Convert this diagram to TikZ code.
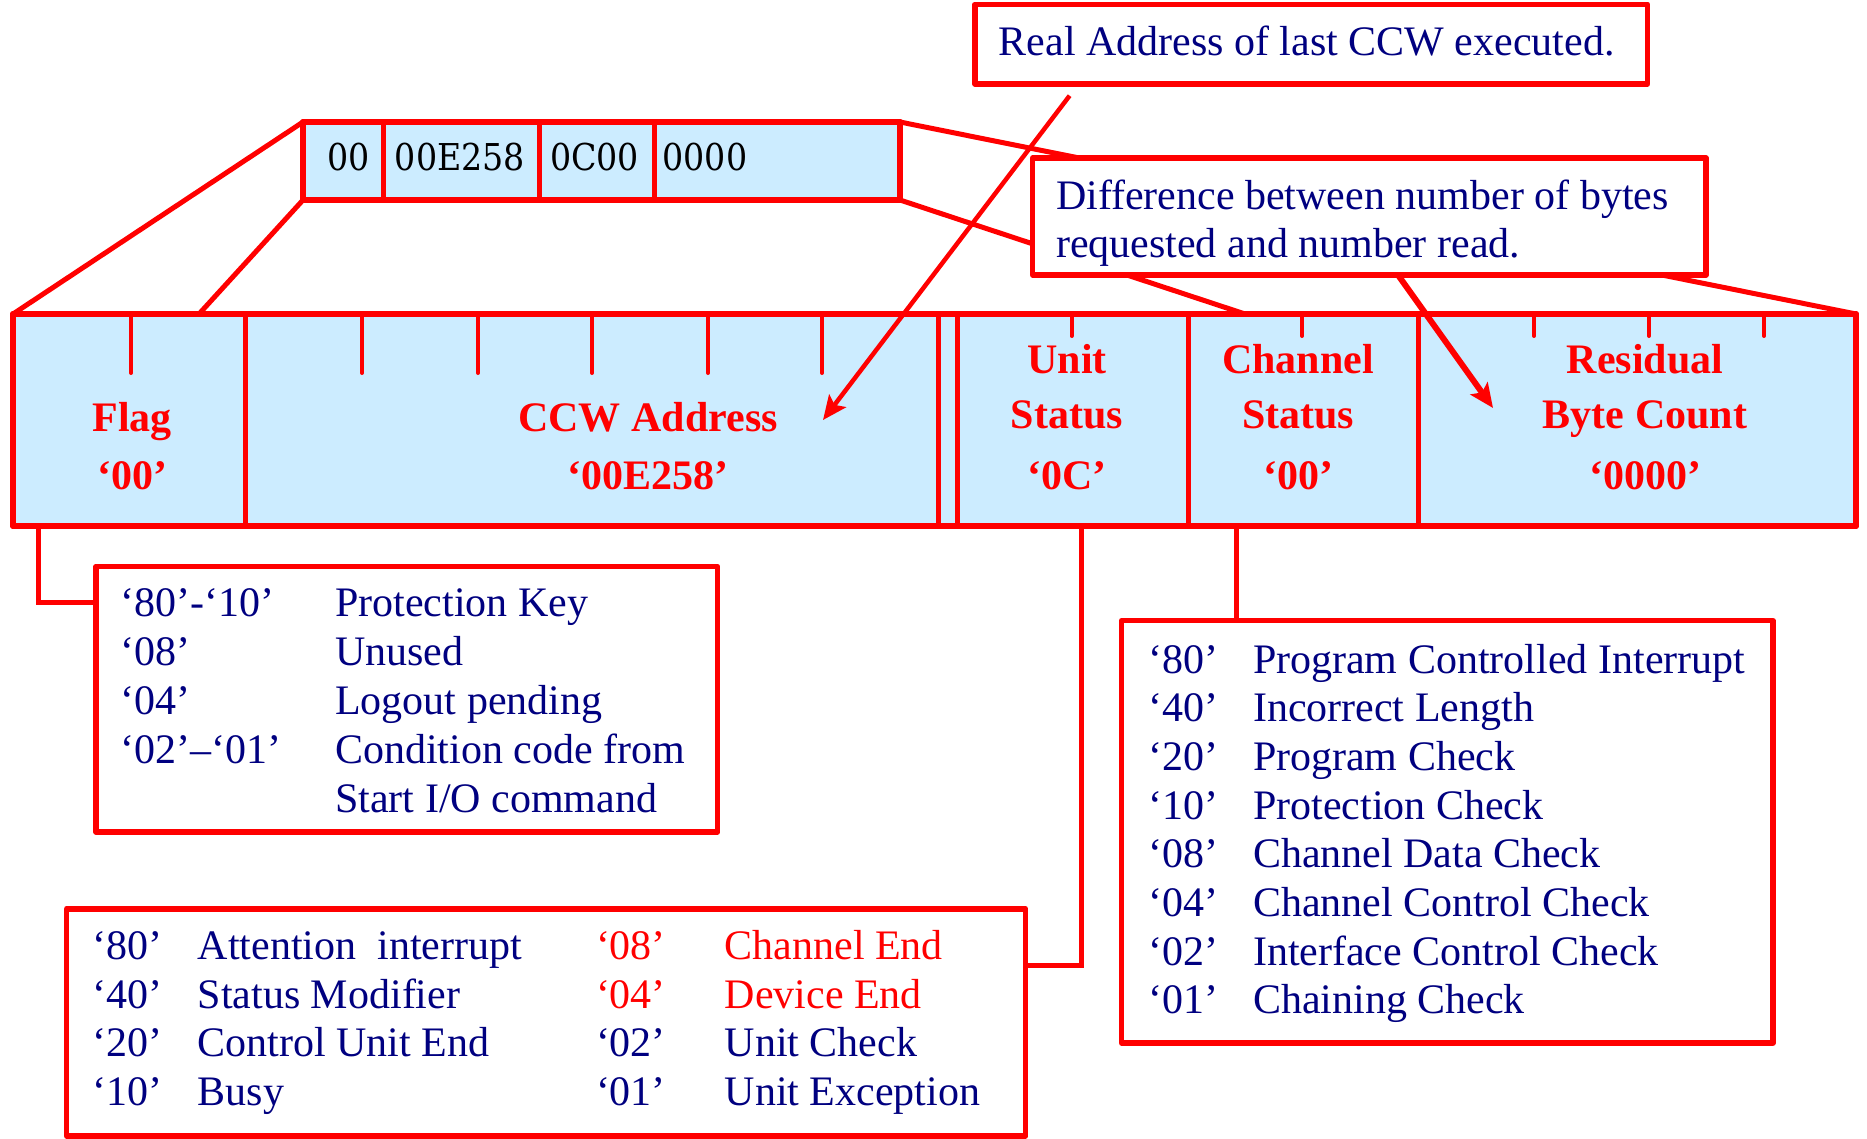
\documentclass[tikz,border=0pt]{standalone}
\usepackage{fontspec}
\setmainfont{Liberation Serif}
\newfontfamily\hexfont[FakeStretch=0.9]{DejaVu Serif}
\usetikzlibrary{arrows.meta}
\definecolor{fillblue}{RGB}{204,236,255}
\definecolor{navy}{RGB}{0,0,128}
\definecolor{pred}{RGB}{255,0,0}
\begin{document}
\begin{tikzpicture}[x=1pt,y=-1pt,
  every node/.style={inner sep=0pt, outer sep=0pt},
  txt/.style={anchor=base west, text=navy, font=\fontsize{42}{48}\selectfont},
  rtxt/.style={anchor=base west, text=pred, font=\fontsize{42}{48}\selectfont},
  lbl/.style={anchor=base, text=pred, font=\fontsize{42}{48}\selectfont\bfseries},
  hex/.style={text=black, font=\hexfont\fontsize{37}{44}\selectfont},
  frame/.style={draw=pred, line width=5.5pt, line join=round, anchor=north west},
  wire/.style={draw=pred, line width=5pt},
  tickline/.style={draw=pred, line width=4pt, line cap=round},
  pointer/.style={draw=pred, -{Stealth[length=24pt, width=21pt, inset=5pt]}},
]
\useasboundingbox (0,0) rectangle (1867,1139);

% --- positions of the nodes ---
\coordinate (smallpos) at (303,122);
\coordinate (rowpos) at (13,314);

% trapezoid lines (behind)
\node[frame, fill=fillblue, minimum width=597, minimum height=78] (small) at (smallpos) {};
\node[frame, fill=fillblue, minimum width=1843, minimum height=212] (row) at (rowpos) {};
\coordinate (lowL) at (199,314);
\coordinate (lowR) at (1245,314);
\draw[wire] (small.north west) -- (row.north west);
\draw[wire] (small.south west) -- (lowL);
\draw[wire] (small.north east) -- (row.north east);
\draw[wire] (small.south east) -- (lowR);

% small register box
\node[frame, fill=fillblue, minimum width=597, minimum height=78] (small2) at (smallpos) {};
\foreach \x in {383.6,539,654} \draw[wire] (\x,122) -- (\x,200);
\node[hex, anchor=base] (h1) at (349,171) {00};
\node[hex, anchor=base] (h2) at (460,171) {00E258};
\node[hex, anchor=base] (h3) at (594.6,171) {0C00};
\node[hex, anchor=base west] (h4) at (662.6,171) {0000};

% main row
\node[frame, fill=fillblue, minimum width=1843, minimum height=212] (row2) at (rowpos) {};
\foreach \x in {245,938,957,1188,1418} \draw[wire] (\x,314) -- (\x,526);
\foreach \x in {131,362,478,592,708,822} \draw[tickline] (\x,314) -- (\x,373);
\foreach \x in {1071.5,1302,1534,1649,1764} \draw[tickline] (\x,314) -- (\x,336);

\node[lbl] (flag1) at (132,431) {Flag};
\node[lbl] (flag2) at (132,489) {‘00’};
\node[lbl] (ccw1) at (648,431) {CCW Address};
\node[lbl] (ccw2) at (648,489) {‘00E258’};
\node[lbl] (us1) at (1067,373) {Unit};
\node[lbl] (us2) at (1067,428.6) {Status};
\node[lbl] (us3) at (1067,489) {‘0C’};
\node[lbl] (cs1) at (1298,373) {Channel};
\node[lbl] (cs2) at (1298,428.6) {Status};
\node[lbl] (cs3) at (1298,489) {‘00’};
\node[lbl] (rb1) at (1645,373) {Residual};
\node[lbl] (rb2) at (1645,428.6) {Byte Count};
\node[lbl] (rb3) at (1645,489) {‘0000’};

% callout boxes
\node[frame, fill=white, minimum width=672.5, minimum height=79.7] (real) at (975,4.3) {};
\node[txt] (realtxt) at (998.7,56) {Real Address of last CCW executed.};
\node[frame, fill=white, minimum width=673.4, minimum height=117] (diff) at (1032.6,158) {};
\node[txt] (diff1) at (1056,210) {Difference between number of bytes};
\node[txt] (diff2) at (1056,258) {requested and number read.};

% arrows
\coordinate (a1s) at (1069.6,95.7);
\coordinate (a1e) at (823,420);
\draw[pointer, line width=4.5pt] (a1s) -- (a1e);
\coordinate (a2s) at (1398,275);
\coordinate (a2e) at (1493,408);
\draw[pointer, line width=6pt] (a2s) -- (a2e);

% Flag box
\node[frame, fill=white, minimum width=621.6, minimum height=265.6] (flagbox) at (96,566.4) {};
\coordinate (fc) at (38.6,526);
\coordinate (fin) at (96,602);
\draw[wire] (fc) |- (fin);
\foreach \a/\b [count=\i] in {{‘80’-‘10’}/{Protection Key},{‘08’}/{Unused},{‘04’}/{Logout pending},{‘02’–‘01’}/{Condition code from}}{
  \node[txt] (fa\i) at (120.7,{616+49*(\i-1)}) {\a};
  \node[txt] (fb\i) at (335.3,{616+49*(\i-1)}) {\b};
}
\node[txt] (fb5) at (335.3,812) {Start I/O command};

% Unit status box
\node[frame, fill=white, minimum width=959, minimum height=227.2] (unitbox) at (66.6,908.8) {};
\coordinate (uc) at (1081.5,526);
\coordinate (uin) at (1025.6,965.8);
\draw[wire] (uc) |- (uin);
\foreach \a/\b [count=\i] in {{‘80’}/{Attention\ \ interrupt},{‘40’}/{Status Modifier},{‘20’}/{Control Unit End},{‘10’}/{Busy}}{
  \node[txt] (ua\i) at (92.6,{959.7+48.5*(\i-1)}) {\a};
  \node[txt] (ub\i) at (197.8,{959.7+48.5*(\i-1)}) {\b};
}
\node[rtxt] (uc1) at (596,959.7) {‘08’};
\node[rtxt] (ud1) at (724.7,959.7) {Channel End};
\node[rtxt] (uc2) at (596,1008.2) {‘04’};
\node[rtxt] (ud2) at (724.7,1008.2) {Device End};
\node[txt] (uc3) at (596,1056.7) {‘02’};
\node[txt] (ud3) at (724.7,1056.7) {Unit Check};
\node[txt] (uc4) at (596,1105.2) {‘01’};
\node[txt] (ud4) at (724.7,1105.2) {Unit Exception};

% Channel status box
\node[frame, fill=white, minimum width=651.4, minimum height=422.2] (chanbox) at (1121.6,620.6) {};
\coordinate (cc) at (1236,526);
\draw[wire] (cc) -- (cc |- chanbox.north);
\foreach \a/\b [count=\i] in {{‘80’}/{Program Controlled Interrupt},{‘40’}/{Incorrect Length},{‘20’}/{Program Check},{‘10’}/{Protection Check},{‘08’}/{Channel Data Check},{‘04’}/{Channel Control Check},{‘02’}/{Interface Control Check},{‘01’}/{Chaining Check}}{
  \node[txt] (ca\i) at (1148,{673+48.7*(\i-1)}) {\a};
  \node[txt] (cb\i) at (1253,{673+48.7*(\i-1)}) {\b};
}
\end{tikzpicture}
\end{document}
